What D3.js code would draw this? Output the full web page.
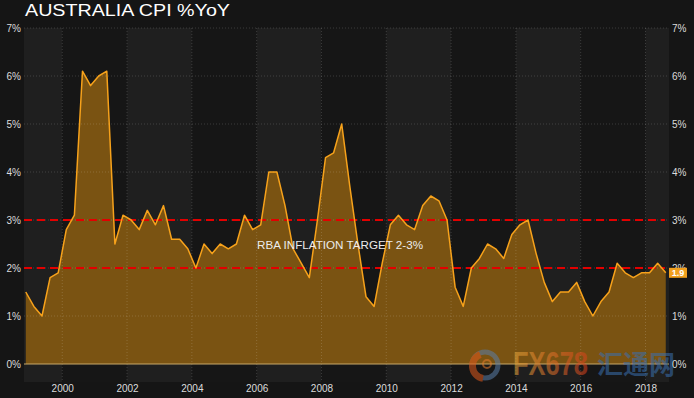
<!DOCTYPE html>
<html>
<head>
<meta charset="utf-8">
<script src="https://cdn.jsdelivr.net/npm/d3@7"></script>
<style>
  html, body { margin: 0; padding: 0; background: #151515; }
  svg { display: block; font-family: "Liberation Sans", Arial, sans-serif; }
</style>
</head>
<body>
<div id="chart"></div>
<script>
// Quarterly CPI, year-on-year %
const quarters = [
    "1998Q4",
    "1999Q1", "1999Q2", "1999Q3", "1999Q4",
    "2000Q1", "2000Q2", "2000Q3", "2000Q4",
    "2001Q1", "2001Q2", "2001Q3", "2001Q4",
    "2002Q1", "2002Q2", "2002Q3", "2002Q4",
    "2003Q1", "2003Q2", "2003Q3", "2003Q4",
    "2004Q1", "2004Q2", "2004Q3", "2004Q4",
    "2005Q1", "2005Q2", "2005Q3", "2005Q4",
    "2006Q1", "2006Q2", "2006Q3", "2006Q4",
    "2007Q1", "2007Q2", "2007Q3", "2007Q4",
    "2008Q1", "2008Q2", "2008Q3", "2008Q4",
    "2009Q1", "2009Q2", "2009Q3", "2009Q4",
    "2010Q1", "2010Q2", "2010Q3", "2010Q4",
    "2011Q1", "2011Q2", "2011Q3", "2011Q4",
    "2012Q1", "2012Q2", "2012Q3", "2012Q4",
    "2013Q1", "2013Q2", "2013Q3", "2013Q4",
    "2014Q1", "2014Q2", "2014Q3", "2014Q4",
    "2015Q1", "2015Q2", "2015Q3", "2015Q4",
    "2016Q1", "2016Q2", "2016Q3", "2016Q4",
    "2017Q1", "2017Q2", "2017Q3", "2017Q4",
    "2018Q1", "2018Q2", "2018Q3"
];
const cpi = [
    1.5,
    1.2, 1.0, 1.8, 1.9,
    2.8, 3.1, 6.1, 5.8,
    6.0, 6.1, 2.5, 3.1,
    3.0, 2.8, 3.2, 2.9,
    3.3, 2.6, 2.6, 2.4,
    2.0, 2.5, 2.3, 2.5,
    2.4, 2.5, 3.1, 2.8,
    2.9, 4.0, 4.0, 3.3,
    2.4, 2.1, 1.8, 3.0,
    4.3, 4.4, 5.0, 3.7,
    2.5, 1.4, 1.2, 2.1,
    2.9, 3.1, 2.9, 2.8,
    3.3, 3.5, 3.4, 3.0,
    1.6, 1.2, 2.0, 2.2,
    2.5, 2.4, 2.2, 2.7,
    2.9, 3.0, 2.3, 1.7,
    1.3, 1.5, 1.5, 1.7,
    1.3, 1.0, 1.3, 1.5,
    2.1, 1.9, 1.8, 1.9,
    1.9, 2.1, 1.9
];
const yearTicks = [2000, 2002, 2004, 2006, 2008, 2010, 2012, 2014, 2016, 2018];
const pctTicks = [0, 1, 2, 3, 4, 5, 6, 7];
const targetBand = [2, 3];

const W = 694, H = 398;
const plotLeft = 24, plotRight = 669, plotTop = 28, plotBottom = 382;

// quarter label -> fractional year (middle of the quarter)
const qYear = q => +q.slice(0, 4) + (+q.slice(5) - 1) * 0.25 + 0.125;
const data = quarters.map((q, i) => ({ t: qYear(q), v: cpi[i] }));

const x = d3.scaleLinear().domain([1998.82, 2018.725]).range([plotLeft, plotRight]);
const y = d3.scaleLinear().domain([-0.375, 7]).range([plotBottom, plotTop]);

const svg = d3.select("#chart").append("svg")
    .attr("width", W).attr("height", H);

svg.append("rect").attr("width", W).attr("height", H).attr("fill", "#151515");

// Alternating 2-year bands
const edges = [x.domain()[0], ...yearTicks, x.domain()[1]];
for (let i = 0; i < edges.length - 1; i++) {
    svg.append("rect")
        .attr("x", x(edges[i]))
        .attr("y", plotTop)
        .attr("width", x(edges[i + 1]) - x(edges[i]))
        .attr("height", plotBottom - plotTop)
        .attr("fill", i % 2 === 0 ? "#1f1f1f" : "#161616");
}

// Area + line
const area = d3.area().x(d => x(d.t)).y0(y(0)).y1(d => y(d.v));
const line = d3.line().x(d => x(d.t)).y(d => y(d.v));

svg.append("path").datum(data)
    .attr("d", area)
    .attr("fill", "#7a5312");

// Grid (dotted)
svg.append("g").selectAll("line").data(pctTicks.slice(1)).join("line")
    .attr("x1", plotLeft).attr("x2", plotRight)
    .attr("y1", d => y(d)).attr("y2", d => y(d))
    .attr("stroke", "rgba(255,255,255,0.16)")
    .attr("stroke-dasharray", "1,2");
svg.append("g").selectAll("line").data(yearTicks).join("line")
    .attr("x1", d => x(d)).attr("x2", d => x(d))
    .attr("y1", plotTop).attr("y2", plotBottom)
    .attr("stroke", "rgba(255,255,255,0.16)")
    .attr("stroke-dasharray", "1,2");

// Zero line
svg.append("line")
    .attr("x1", plotLeft).attr("x2", plotRight)
    .attr("y1", y(0)).attr("y2", y(0))
    .attr("stroke", "#c7a868").attr("stroke-width", 1);

// RBA target lines
svg.append("g").selectAll("line").data(targetBand).join("line")
    .attr("x1", plotLeft).attr("x2", x(2018.6))
    .attr("y1", d => y(d)).attr("y2", d => y(d))
    .attr("stroke", "#e30000")
    .attr("stroke-width", 2)
    .attr("stroke-dasharray", "8,5");

svg.append("path").datum(data)
    .attr("d", line)
    .attr("fill", "none")
    .attr("stroke", "#f7a21b")
    .attr("stroke-width", 1.5)
    .attr("stroke-linejoin", "round");

// Watermark
const wm = svg.append("g").attr("opacity", 0.55);
wm.append("circle").attr("cx", 485).attr("cy", 365).attr("r", 13)
    .attr("fill", "none").attr("stroke", "#5a7ea8").attr("stroke-width", 5);
wm.append("path")
    .attr("d", d3.arc().innerRadius(9).outerRadius(16).startAngle(3.3).endAngle(5.9)())
    .attr("transform", "translate(485,366)")
    .attr("fill", "#e05a1c");
wm.append("circle").attr("cx", 487).attr("cy", 364).attr("r", 4)
    .attr("fill", "none").attr("stroke", "#e07a2c").attr("stroke-width", 2);
const grad = svg.append("defs").append("linearGradient").attr("id", "fxg");
grad.append("stop").attr("offset", "0%").attr("stop-color", "#e8a83a");
grad.append("stop").attr("offset", "100%").attr("stop-color", "#d8401c");
wm.append("text").attr("x", 513).attr("y", 375)
    .attr("font-size", 33).attr("font-weight", "bold")
    .attr("textLength", 75).attr("lengthAdjust", "spacingAndGlyphs")
    .attr("fill", "url(#fxg)").text("FX678");
wm.append("text").attr("x", 597).attr("y", 374)
    .style("font-family", "'Noto Sans CJK SC', sans-serif")
    .attr("font-size", 26).attr("font-weight", "bold")
    .attr("textLength", 78).attr("lengthAdjust", "spacingAndGlyphs")
    .attr("fill", "#3a6fb0").text("汇通网");

// Axes
const yLeft = svg.append("g").attr("transform", `translate(${plotLeft},0)`)
    .call(d3.axisLeft(y).tickValues(pctTicks).tickFormat(d => d + "%").tickSize(0).tickPadding(3));
const yRight = svg.append("g").attr("transform", `translate(${plotRight},0)`)
    .call(d3.axisRight(y).tickValues(pctTicks).tickFormat(d => d + "%").tickSize(0).tickPadding(3));
const xAxis = svg.append("g").attr("transform", `translate(0,${plotBottom})`)
    .call(d3.axisBottom(x).tickValues(yearTicks).tickFormat(d3.format("d")).tickSize(0).tickPadding(3));

[yLeft, yRight, xAxis].forEach(g => {
    g.select(".domain").remove();
    g.selectAll("text")
        .attr("fill", "#dcdcdc")
        .style("font-size", "10px")
        .style("font-family", "'Liberation Sans', Arial, sans-serif");
});

// Title
svg.append("text")
    .attr("x", 25).attr("y", 16)
    .attr("font-size", 16)
    .attr("textLength", 205).attr("lengthAdjust", "spacingAndGlyphs")
    .attr("fill", "#ffffff")
    .text("AUSTRALIA CPI %YoY");

// Target label
svg.append("text")
    .attr("x", 257).attr("y", 249)
    .attr("font-size", 11)
    .attr("textLength", 166).attr("lengthAdjust", "spacingAndGlyphs")
    .attr("fill", "#ececec")
    .text("RBA INFLATION TARGET 2-3%");

// Last value tag
const last = data[data.length - 1];
svg.append("rect")
    .attr("x", plotRight).attr("y", y(last.v) - 5)
    .attr("width", 18).attr("height", 10)
    .attr("fill", "#f2a01e");
svg.append("text")
    .attr("x", plotRight + 9).attr("y", y(last.v) + 3.5)
    .attr("text-anchor", "middle")
    .attr("font-size", 9).attr("font-weight", "bold")
    .attr("fill", "#ffffff")
    .text(last.v.toFixed(1));
</script>
</body>
</html>
